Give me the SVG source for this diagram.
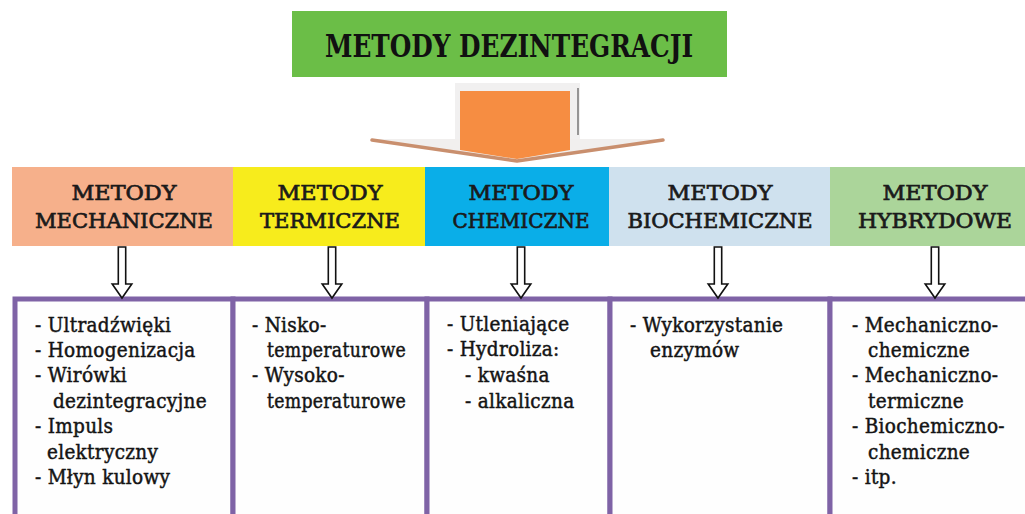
<svg xmlns="http://www.w3.org/2000/svg" width="1025" height="514" viewBox="0 0 1025 514">
<style>
.title{font-family:"DejaVu Serif","Liberation Serif",serif;font-weight:bold;font-size:32px;fill:#111;}
.cat{font-family:"DejaVu Serif","Liberation Serif",serif;font-size:21px;fill:#1a1a1a;stroke:#1a1a1a;stroke-width:0.7;text-anchor:middle;}
.item{font-family:"DejaVu Serif Condensed","DejaVu Serif","Liberation Serif",serif;font-stretch:condensed;font-size:20.5px;letter-spacing:0.3px;fill:#141414;stroke:#141414;stroke-width:0.45;}
.box{fill:#fefefe;stroke:#7f63a6;stroke-width:5;}
.dn{fill:#fff;stroke:#111;stroke-width:1.6;stroke-linejoin:miter;}
</style>
<rect width="1025" height="514" fill="#ffffff"/>

<g id="title">
<rect x="292" y="11" width="435" height="66" fill="#6bbe47"/>
<text class="title" x="325" y="57" textLength="368" lengthAdjust="spacingAndGlyphs">METODY DEZINTEGRACJI</text>
</g>

<g id="cat-mechaniczne">
<rect x="12" y="167" width="221" height="79" fill="#f6b08b"/>
<text class="cat" x="124" y="200" textLength="105" lengthAdjust="spacingAndGlyphs">METODY</text>
<text class="cat" x="124" y="228" textLength="178" lengthAdjust="spacingAndGlyphs">MECHANICZNE</text>
</g>
<g id="cat-termiczne">
<rect x="233" y="167" width="192" height="79" fill="#f7ec1c"/>
<text class="cat" x="330" y="200" textLength="105" lengthAdjust="spacingAndGlyphs">METODY</text>
<text class="cat" x="330" y="228" textLength="140" lengthAdjust="spacingAndGlyphs">TERMICZNE</text>
</g>
<g id="cat-chemiczne">
<rect x="425" y="167" width="184" height="79" fill="#0aaee8"/>
<text class="cat" x="521" y="200" textLength="105" lengthAdjust="spacingAndGlyphs">METODY</text>
<text class="cat" x="521" y="228" textLength="137" lengthAdjust="spacingAndGlyphs">CHEMICZNE</text>
</g>
<g id="cat-biochemiczne">
<rect x="609" y="167" width="221" height="79" fill="#cfe1ee"/>
<text class="cat" x="720" y="200" textLength="105" lengthAdjust="spacingAndGlyphs">METODY</text>
<text class="cat" x="720" y="228" textLength="185" lengthAdjust="spacingAndGlyphs">BIOCHEMICZNE</text>
</g>
<g id="cat-hybrydowe">
<rect x="830" y="167" width="200" height="79" fill="#abd59a"/>
<text class="cat" x="935" y="200" textLength="105" lengthAdjust="spacingAndGlyphs">METODY</text>
<text class="cat" x="935" y="228" textLength="154" lengthAdjust="spacingAndGlyphs">HYBRYDOWE</text>
</g>

<g id="box-mechaniczne">
<rect class="box" x="15" y="299" width="218" height="240"/>
<text class="item" x="35" y="332">- Ultradźwięki</text>
<text class="item" x="35" y="357">- Homogenizacja</text>
<text class="item" x="35" y="382">- Wirówki</text>
<text class="item" x="53" y="408">dezintegracyjne</text>
<text class="item" x="35" y="433">- Impuls</text>
<text class="item" x="47" y="459">elektryczny</text>
<text class="item" x="35" y="484">- Młyn kulowy</text>
</g>
<g id="box-termiczne">
<rect class="box" x="233" y="299" width="194" height="240"/>
<text class="item" x="252" y="332">- Nisko-</text>
<text class="item" x="267" y="357" textLength="139" lengthAdjust="spacingAndGlyphs">temperaturowe</text>
<text class="item" x="252" y="382">- Wysoko-</text>
<text class="item" x="267" y="408" textLength="139" lengthAdjust="spacingAndGlyphs">temperaturowe</text>
</g>
<g id="box-chemiczne">
<rect class="box" x="427" y="299" width="183" height="240"/>
<text class="item" x="447" y="331">- Utleniające</text>
<text class="item" x="447" y="356">- Hydroliza:</text>
<text class="item" x="465" y="382">- kwaśna</text>
<text class="item" x="465" y="408">- alkaliczna</text>
</g>
<g id="box-biochemiczne">
<rect class="box" x="610" y="299" width="220" height="240"/>
<text class="item" x="630" y="332">- Wykorzystanie</text>
<text class="item" x="650" y="357">enzymów</text>
</g>
<g id="box-hybrydowe">
<rect class="box" x="830" y="299" width="210" height="240"/>
<text class="item" x="852" y="332">- Mechaniczno-</text>
<text class="item" x="868" y="357">chemiczne</text>
<text class="item" x="852" y="382">- Mechaniczno-</text>
<text class="item" x="868" y="408">termiczne</text>
<text class="item" x="852" y="433">- Biochemiczno-</text>
<text class="item" x="868" y="459">chemiczne</text>
<text class="item" x="852" y="484">- itp.</text>
</g>

<g id="connectors">
<g id="main-arrow">
<rect x="455" y="83" width="125" height="60" fill="#f1f0f0"/>
<line x1="578" y1="88" x2="578" y2="135" stroke="#777" stroke-width="1.5"/>
<polygon points="372,139 663,139 517,161" fill="#f1efee"/>
<polyline points="372,140 517,161 663,140" fill="none" stroke="#c98f6e" stroke-width="3.5" stroke-linecap="round" stroke-linejoin="round"/>
<polygon points="460,91 570,91 570,150 517,159 460,150" fill="#f68d42"/>
</g>
<polygon class="dn" points="118.3,247 125.7,247 125.7,284 131.8,284 122,298 112.2,284 118.3,284"/>
<polygon class="dn" points="328.3,247 335.7,247 335.7,284 341.8,284 332,298 322.2,284 328.3,284"/>
<polygon class="dn" points="517.3,247 524.7,247 524.7,284 530.8,284 521,298 511.2,284 517.3,284"/>
<polygon class="dn" points="714.3,247 721.7,247 721.7,284 727.8,284 718,298 708.2,284 714.3,284"/>
<polygon class="dn" points="931.3,247 938.7,247 938.7,284 944.8,284 935,298 925.2,284 931.3,284"/>
</g>
</svg>
